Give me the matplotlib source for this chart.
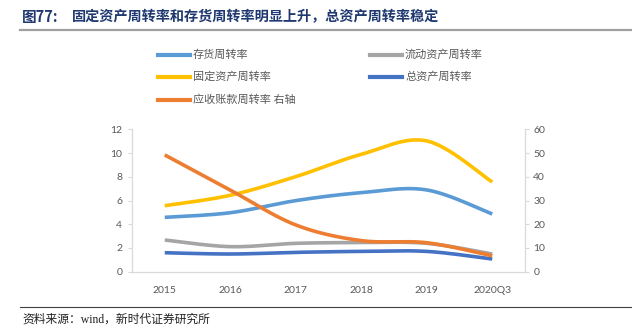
import numpy as np
import matplotlib
matplotlib.use('Agg')
import matplotlib.pyplot as plt
from matplotlib.lines import Line2D

plt.rcParams['font.family'] = ['Noto Sans CJK SC', 'DejaVu Sans']

years = ['2015', '2016', '2017', '2018', '2019', '2020Q3']
cunhuo = [4.58, 4.97, 5.99, 6.66, 6.89, 4.86]      # 存货周转率
liudong = [2.67, 2.11, 2.39, 2.45, 2.39, 1.49]     # 流动资产周转率
guding = [5.56, 6.44, 8.01, 9.89, 11.02, 7.56]     # 固定资产周转率
zong = [1.60, 1.49, 1.63, 1.71, 1.71, 1.07]        # 总资产周转率
yingshou = [49.2, 34.4, 19.7, 13.1, 12.2, 6.7]     # 应收账款周转率 右轴


def smooth(y, n=30):
    # curva suave tipo Excel (Catmull-Rom -> Bezier)
    y = np.asarray(y, dtype=float)
    x = np.arange(len(y), dtype=float)
    px = np.concatenate([[x[0]], x, [x[-1]]])
    py = np.concatenate([[y[0]], y, [y[-1]]])
    xs, ys = [], []
    t = np.linspace(0, 1, n)
    for i in range(len(y) - 1):
        p0 = np.array([px[i], py[i]])
        p1 = np.array([px[i + 1], py[i + 1]])
        p2 = np.array([px[i + 2], py[i + 2]])
        p3 = np.array([px[i + 3], py[i + 3]])
        c1 = p1 + (p2 - p0) / 6
        c2 = p2 - (p3 - p1) / 6
        b = (np.outer((1 - t) ** 3, p1) + np.outer(3 * (1 - t) ** 2 * t, c1)
             + np.outer(3 * (1 - t) * t ** 2, c2) + np.outer(t ** 3, p2))
        xs.extend(b[:, 0])
        ys.extend(b[:, 1])
    return xs, ys


W, H = 632, 334
fig = plt.figure(figsize=(W / 100, H / 100), dpi=100)
ax = fig.add_axes([132 / W, 1 - 271.7 / H, (525 - 132) / W, (271.7 - 129.3) / H])
ax2 = ax.twinx()

series = [
    (cunhuo, '#5B9BD5', '存货周转率', ax),
    (liudong, '#A5A5A5', '流动资产周转率', ax),
    (guding, '#FFC000', '固定资产周转率', ax),
    (zong, '#4472C4', '总资产周转率', ax),
    (yingshou, '#ED7D31', '应收账款周转率 右轴', ax2),
]
for vals, col, lab, a in series:
    xs, ys = smooth(vals)
    a.plot(xs, ys, color=col, lw=2.6, solid_capstyle='butt')

ax.set_xlim(-0.5, 5.5)
ax.set_ylim(0, 12)
ax2.set_ylim(0, 60)
ax.set_yticks(range(0, 13, 2))
ax2.set_yticks(range(0, 61, 10))
ax.set_xticks(range(len(years)))
ax.set_xticklabels(years)

axis_col = '#D9D9D9'
txt_col = '#595959'
for a in (ax, ax2):
    a.spines['top'].set_visible(False)
    for s in ('left', 'right', 'bottom'):
        a.spines[s].set_color(axis_col)
        a.spines[s].set_linewidth(0.8)
ax.tick_params(axis='y', length=3, color=axis_col, labelsize=7.5, labelcolor=txt_col, pad=4)
ax2.tick_params(axis='y', length=3, color=axis_col, labelsize=7.5, labelcolor=txt_col, pad=3)
ax.tick_params(axis='x', length=0, labelsize=7.5, labelcolor=txt_col, pad=10)
for lbl in ax.get_xticklabels() + ax.get_yticklabels() + ax2.get_yticklabels():
    lbl.set_family(['Lato', 'DejaVu Sans'])

# leyenda manual
pos = [(158, 55), (370, 55), (158, 77), (370, 77), (158, 100)]
for (px, py), (vals, col, lab, a) in zip(pos, series):
    fig.add_artist(Line2D([px / W, (px + 32) / W], [1 - py / H, 1 - py / H],
                          transform=fig.transFigure, color=col, lw=3))
    fig.text((px + 35) / W, 1 - py / H, lab, fontsize=8, color=txt_col,
             va='center', ha='left')

# titulo
fig.text(22 / W, 1 - 17 / H, '图77:', fontsize=10.5, fontweight='bold',
         color='#1F3870', va='center', ha='left')
fig.text(72 / W, 1 - 17 / H, '固定资产周转率和存货周转率明显上升，总资产周转率稳定',
         fontsize=10.2, fontweight='bold', color='#1F3870', va='center', ha='left')
fig.add_artist(Line2D([20 / W, 1], [1 - 30 / H, 1 - 30 / H],
                      transform=fig.transFigure, color='#A0A0A0', lw=1.6))

# fuente
fig.add_artist(Line2D([20 / W, 1], [1 - 306.5 / H, 1 - 306.5 / H],
                      transform=fig.transFigure, color='#404040', lw=0.8))
fig.text(22 / W, 1 - 320 / H, '资料来源：wind，新时代证券研究所', fontsize=8.5,
         color='#222222', va='center', ha='left',
         family=['Liberation Serif', 'Noto Sans CJK SC'])

fig.savefig('out.png', dpi=100)
